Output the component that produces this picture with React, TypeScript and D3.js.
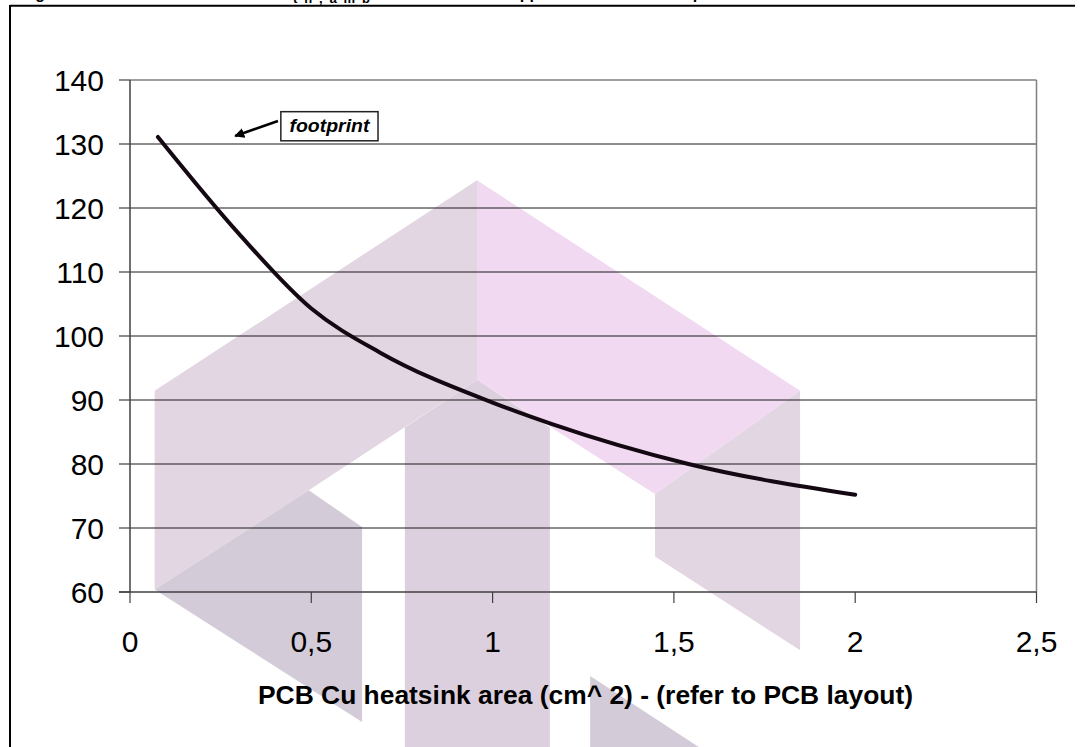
import React from "react";
import * as d3 from "d3";

// ---- data ----
const areaCm2 = [0.077, 0.3, 0.5, 0.69, 1.0, 1.16, 1.54, 2.0];
const rthAmb = [131.1, 116.0, 104.3, 97.4, 89.6, 86.3, 80.0, 75.2];
const yTicks = [60, 70, 80, 90, 100, 110, 120, 130, 140];
const xTicks = [0, 0.5, 1, 1.5, 2, 2.5];
const xTickLabels = ["0", "0,5", "1", "1,5", "2", "2,5"];
const xTitle = "PCB Cu heatsink area (cm^ 2) -  (refer to PCB layout)";
const noteText = "footprint";

// decorative background logo, in data units
const wmMauveLeft: [number, number][] = [[0.068, 91.44], [0.957, 124.33], [0.957, 93.16], [0.493, 75.9], [0.068, 60.38]];
const wmPink: [number, number][] = [[0.957, 124.33], [1.848, 91.44], [1.448, 75.33], [0.957, 93.16]];
const wmRightLeg: [number, number][] = [[1.448, 75.33], [1.848, 91.44], [1.848, 50.89], [1.448, 65.55]];
const wmColumn: [number, number][] = [[0.758, 85.69], [0.957, 93.16], [1.158, 85.69], [1.158, 33], [0.758, 33]];
const wmDarkLeft: [number, number][] = [[0.068, 60.38], [0.493, 75.9], [0.64, 70.16], [0.64, 39.67]];
const wmDarkRight: [number, number][] = [[1.269, 46.88], [1.577, 35.47], [1.62, 33], [1.269, 33]];

const W = 1084;
const H = 747;

export default function App() {
  const x = d3.scaleLinear().domain([0, 2.5]).range([130, 1036.5]);
  const y = d3.scaleLinear().domain([60, 140]).range([592, 80]);

  const line = d3
    .line<number>()
    .x((_, i) => x(areaCm2[i]))
    .y((d) => y(d))
    .curve(d3.curveMonotoneX);

  const poly = (pts: [number, number][]) =>
    pts.map(([a, b]) => `${x(a)},${y(b)}`).join(" ");

  const font = "Arial, 'Liberation Sans', Helvetica, sans-serif";

  // annotation geometry (data units)
  const arrowFrom = { a: 0.408, v: 133.6 };
  const arrowTo = { a: 0.29, v: 131.25 };
  const boxA0 = 0.416, boxA1 = 0.684, boxV0 = 135.05, boxV1 = 130.5;

  return (
    <svg
      width={W}
      height={H}
      style={{ position: "absolute", left: 0, top: 0, background: "#fff" }}
      fontFamily={font}
    >
      <defs>
        <marker id="ah" viewBox="0 0 10 10" refX="9" refY="5" markerWidth="4" markerHeight="4" orient="auto">
          <path d="M0,0 L10,5 L0,10 z" fill="#000" />
        </marker>
      </defs>
      <rect x={0} y={0} width={W} height={H} fill="#fff" />

      {/* clipped title */}
      <g fontWeight="bold" fontSize={16} fill="#000">
        <text x={21} y={-1}>Figure 8.</text>
        <text x={280} y={-1}>R</text>
        <text x={293} y={3} fontSize={13} textLength={77} lengthAdjust="spacing">th,amb</text>
        <text x={501} y={-1}>copper</text>
        <text x={683} y={-1}>open</text>
      </g>

      {/* outer frame */}
      <line x1={10} y1={5.8} x2={1075} y2={5.8} stroke="#000" strokeWidth={2} />
      <line x1={10} y1={5} x2={10} y2={H} stroke="#000" strokeWidth={2} />

      {/* watermark */}
      <g>
        <polygon points={poly(wmMauveLeft)} fill="#e3d6e3" />
        <polygon points={poly(wmPink)} fill="#f1d9f1" />
        <polygon points={poly(wmRightLeg)} fill="#e3d6e3" />
        <polygon points={poly(wmColumn)} fill="#ddd0de" />
        <polygon points={poly(wmDarkLeft)} fill="#d4cbd9" />
        <polygon points={poly(wmDarkRight)} fill="#d4cbd9" />
      </g>

      {/* gridlines */}
      {yTicks.filter((t) => t > 60 && t < 140).map((t) => (
        <line key={t} x1={x(0)} x2={x(2.5)} y1={y(t)} y2={y(t)} stroke="#1a1a1a" strokeWidth={1} />
      ))}
      {/* plot frame top/right */}
      <line x1={x(0)} x2={x(2.5)} y1={y(140)} y2={y(140)} stroke="#808080" strokeWidth={1.5} />
      <line x1={x(2.5)} x2={x(2.5)} y1={y(140)} y2={y(60)} stroke="#808080" strokeWidth={1.5} />

      {/* axes */}
      <line x1={x(0)} x2={x(0)} y1={y(140)} y2={y(60)} stroke="#404040" strokeWidth={1.5} />
      <line x1={x(0) - 11} x2={x(2.5)} y1={y(60)} y2={y(60)} stroke="#404040" strokeWidth={1.5} />
      {yTicks.map((t) => (
        <g key={t}>
          <line x1={x(0) - 11} x2={x(0)} y1={y(t)} y2={y(t)} stroke="#404040" strokeWidth={1.2} />
          <text x={104} y={y(t)} dy="0.36em" textAnchor="end" fontSize={30} fill="#000">
            {t}
          </text>
        </g>
      ))}
      {xTicks.map((t, i) => (
        <g key={t}>
          <line x1={x(t)} x2={x(t)} y1={y(60)} y2={y(60) + 11} stroke="#404040" strokeWidth={1.2} />
          <text x={x(t)} y={652} textAnchor="middle" fontSize={30} fill="#000">
            {xTickLabels[i]}
          </text>
        </g>
      ))}

      {/* x-axis title */}
      <text
        x={258}
        y={704}
        fontSize={25}
        fontWeight="bold"
        fill="#000"
        textLength={655}
        lengthAdjust="spacingAndGlyphs"
      >
        {xTitle}
      </text>

      {/* curve */}
      <path d={line(rthAmb) || ""} fill="none" stroke="#140812" strokeWidth={4} strokeLinejoin="round" strokeLinecap="round" />

      {/* annotation */}
      <line
        x1={x(arrowFrom.a)}
        y1={y(arrowFrom.v)}
        x2={x(arrowTo.a)}
        y2={y(arrowTo.v)}
        stroke="#000"
        strokeWidth={2.5}
        markerEnd="url(#ah)"
      />
      <rect
        x={x(boxA0)}
        y={y(boxV0)}
        width={x(boxA1) - x(boxA0)}
        height={y(boxV1) - y(boxV0)}
        fill="#fff"
        stroke="#222"
        strokeWidth={1.5}
      />
      <text
        x={(x(boxA0) + x(boxA1)) / 2}
        y={(y(boxV0) + y(boxV1)) / 2}
        dy="0.33em"
        textAnchor="middle"
        fontSize={18}
        fontWeight="bold"
        fontStyle="italic"
        fill="#000"
        textLength={80}
        lengthAdjust="spacingAndGlyphs"
      >
        {noteText}
      </text>
    </svg>
  );
}
